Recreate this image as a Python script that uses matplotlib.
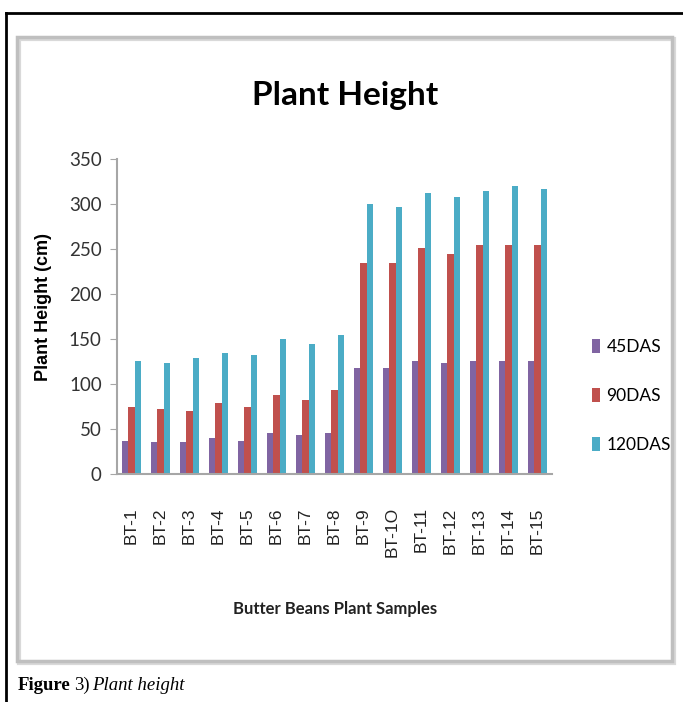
import matplotlib
matplotlib.use("Agg")
import matplotlib.pyplot as plt
import numpy as np
from matplotlib.patches import Rectangle
from matplotlib.lines import Line2D

# Plant height of butter bean samples at 45, 90 and 120 DAS

samples = ['BT-1', 'BT-2', 'BT-3', 'BT-4', 'BT-5', 'BT-6', 'BT-7', 'BT-8',
           'BT-9', 'BT-1O', 'BT-11', 'BT-12', 'BT-13', 'BT-14', 'BT-15']
das45 = [37, 36, 36, 40, 37, 46, 43, 46, 118, 118, 126, 123, 126, 126, 126]
das90 = [75, 72, 70, 79, 75, 88, 82, 93, 234, 234, 251, 245, 254, 254, 254]
das120 = [126, 123, 129, 135, 132, 150, 145, 154, 300, 297, 312, 308, 315, 320, 317]
series_names = ['45DAS', '90DAS', '120DAS']
yticks = [0, 50, 100, 150, 200, 250, 300, 350]

W, H = 683, 702
fig = plt.figure(figsize=(W / 100, H / 100), dpi=100)

# outer frame (black, left and top) and inner gray chart box
fig.add_artist(Line2D([6 / W, 6 / W], [0, 1 - 13 / H], color='black', lw=2,
                      transform=fig.transFigure))
fig.add_artist(Line2D([6 / W, 1], [1 - 13 / H, 1 - 13 / H], color='black', lw=2,
                      transform=fig.transFigure))
fig.add_artist(Rectangle((19 / W, 1 - 663 / H), 655 / W, 624 / H, fill=False,
                         ec='#d9d9d9', lw=3, transform=fig.transFigure))
fig.add_artist(Rectangle((17 / W, 1 - 661 / H), 655 / W, 624 / H, fill=False,
                         ec='#bfbfbf', lw=2.5, transform=fig.transFigure))

ax = fig.add_axes([117 / W, 1 - 474 / H, 435 / W, 315 / H])

x = np.arange(len(samples))
bw = 0.22
colors = ['#8064A2', '#C0504D', '#4BACC6']
for i, (vals, c, name) in enumerate(zip([das45, das90, das120], colors, series_names)):
    ax.bar(x + (i - 1) * bw, vals, bw, color=c, label=name)

ax.set_xlim(-0.5, len(samples) - 0.5)
ax.set_ylim(0, 350)
ax.set_yticks(yticks)
ax.set_xticks(x)
ax.set_xticklabels(samples, rotation=90, fontsize=12.5, family='Liberation Sans',
                   color='#222222')
for lbl in ax.get_yticklabels():
    lbl.set_family('Lato')
    lbl.set_fontsize(13.5)
    lbl.set_color('#333333')
ax.tick_params(axis='y', length=5, color='#a6a6a6', pad=6)
ax.tick_params(axis='x', length=0, pad=24)
for s in ['top', 'right']:
    ax.spines[s].set_visible(False)
for s in ['left', 'bottom']:
    ax.spines[s].set_color('#a6a6a6')
    ax.spines[s].set_linewidth(1.5)

ax.set_ylabel('Plant Height (cm)', fontsize=13, fontweight='bold',
              family='Liberation Sans', labelpad=12)
ax.yaxis.set_label_coords(-65 / 435, 0.53)

fig.text(345 / W, 1 - 95 / H, 'Plant Height', fontsize=24, fontweight='bold',
         family='Lato', ha='center', va='center')
fig.text(335 / W, 1 - 609 / H, 'Butter Beans Plant Samples', fontsize=12,
         fontweight='bold', family='Lato', ha='center', va='center',
         color='#222222')

fig.legend(loc='center left', bbox_to_anchor=(576 / W, 1 - 396 / H), frameon=False,
           prop={'family': 'Lato', 'size': 12.5}, handlelength=0.5,
           handleheight=0.8, handletextpad=0.35, labelspacing=1.9)

# caption: bold "Figure", regular "3)", italic title
t1 = fig.text(18 / W, 1 - 685 / H, 'Figure', fontsize=13.5, fontweight='bold',
              family='Liberation Serif', va='center')
fig.canvas.draw()
bb = t1.get_window_extent()
t2 = fig.text((bb.x1 + 3) / W, 1 - 685 / H, '3)', fontsize=13.5,
              family='Liberation Serif', va='center')
fig.canvas.draw()
bb = t2.get_window_extent()
fig.text((bb.x1 + 3) / W, 1 - 685 / H, 'Plant height', fontsize=13.5, style='italic',
         family='Liberation Serif', va='center')

fig.savefig('out.png', dpi=100)
